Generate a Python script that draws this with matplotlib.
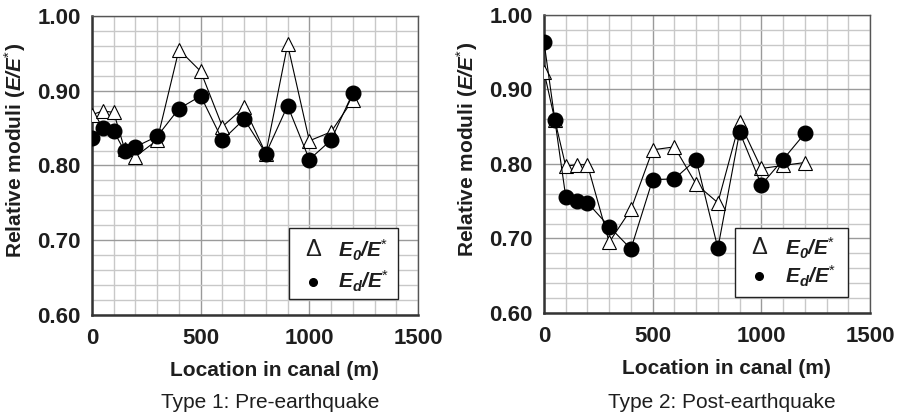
import matplotlib
matplotlib.use("Agg")
import matplotlib.pyplot as plt
from matplotlib.patches import Rectangle
from matplotlib.ticker import MultipleLocator, FormatStrFormatter

plt.rcParams["font.family"] = ["Liberation Sans", "DejaVu Sans"]
plt.rcParams["mathtext.fontset"] = "custom"
plt.rcParams["mathtext.rm"] = "Liberation Sans"
plt.rcParams["mathtext.it"] = "Liberation Sans:italic"
plt.rcParams["mathtext.bf"] = "Liberation Sans:bold"
plt.rcParams["mathtext.bfit"] = "Liberation Sans:italic:bold"

location = [0, 50, 100, 150, 200, 300, 400, 500, 600, 700, 800, 900, 1000, 1100, 1200]

pre_e0 = [0.868, 0.873, 0.871, 0.822, 0.812, 0.834, 0.955, 0.926, 0.852, 0.878,
          0.816, 0.962, 0.833, 0.845, 0.888]
pre_ed = [0.837, 0.850, 0.846, 0.819, 0.825, 0.839, 0.876, 0.893, 0.834, 0.862,
          0.816, 0.880, 0.808, 0.834, 0.897]

post_e0 = [0.924, 0.859, 0.797, 0.799, 0.799, 0.695, 0.739, 0.819, 0.823, 0.773,
           0.748, 0.856, 0.794, 0.798, 0.802]
post_ed = [0.964, 0.859, 0.756, 0.751, 0.748, 0.716, 0.686, 0.779, 0.780, 0.806,
           0.687, 0.843, 0.772, 0.806, 0.841]

captions = ["Type 1: Pre-earthquake", "Type 2: Post-earthquake"]
legend_labels = [r"$\mathbfit{E}_{\mathbfit{0}}\mathbfit{/E}^{*}$",
                 r"$\mathbfit{E}_{\mathbfit{d}}\mathbfit{/E}^{*}$"]
TXT = "#1e1e1e"

fig = plt.figure(figsize=(9.04, 4.19), dpi=100)
W, H = 904, 419
# axes boxes in pixels: left, top, right, bottom
boxes = [(92, 16, 418, 315), (544, 15, 870, 313)]
# legend layout in axes coords: box (x0, y0, x1, y1), symbol x, text x, row ys
leg_layout = [
    ((0.604, 0.054, 0.939, 0.291), 0.678, 0.755, (0.217, 0.112)),
    ((0.586, 0.054, 0.933, 0.285), 0.660, 0.738, (0.218, 0.124)),
]
panels = [(pre_e0, pre_ed), (post_e0, post_ed)]

for (x0, y0, x1, y1), (e0, ed), cap, lay in zip(boxes, panels, captions, leg_layout):
    ax = fig.add_axes([x0 / W, 1 - y1 / H, (x1 - x0) / W, (y1 - y0) / H])
    ax.set_xlim(0, 1500)
    ax.set_ylim(0.60, 1.00)
    ax.xaxis.set_major_locator(MultipleLocator(500))
    ax.xaxis.set_minor_locator(MultipleLocator(100))
    ax.yaxis.set_major_locator(MultipleLocator(0.1))
    ax.yaxis.set_minor_locator(MultipleLocator(0.02))
    ax.yaxis.set_major_formatter(FormatStrFormatter("%.2f"))
    ax.grid(which="minor", color="#c8c8c8", lw=1.0)
    ax.grid(which="major", color="#9a9a9a", lw=1.0)
    ax.set_axisbelow(True)
    ax.tick_params(which="both", direction="in", length=0, labelsize=16,
                   colors=TXT)
    ax.tick_params(axis="x", pad=9)
    ax.tick_params(axis="y", pad=8)
    for lab in ax.get_xticklabels() + ax.get_yticklabels():
        lab.set_fontweight("bold")
    for side in ["left", "bottom"]:
        ax.spines[side].set_linewidth(1.8)
        ax.spines[side].set_color("#333333")
    for side in ["top", "right"]:
        ax.spines[side].set_linewidth(1.0)
        ax.spines[side].set_color("#555555")

    ax.plot(location, e0, color="black", lw=0.8, marker="^", ms=10,
            mfc="white", mec="black", mew=0.8, zorder=3)
    ax.plot(location, ed, color="black", lw=0.8, marker="o", ms=10.5,
            mfc="black", mec="black", zorder=4)

    ax.set_xlabel("Location in canal (m)", fontsize=15, fontweight="bold",
                  color=TXT)
    ax.xaxis.set_label_coords(0.561, -0.155)
    ax.set_ylabel(r"Relative moduli ($\mathbfit{E/E}^{*}$)", fontsize=15,
                  fontweight="bold", color=TXT)
    ax.yaxis.set_label_coords(-0.195, 0.55)

    # hand-made legend box
    (bx0, by0, bx1, by1), sx, tx, rows = lay
    ax.add_patch(Rectangle((bx0, by0), bx1 - bx0, by1 - by0, transform=ax.transAxes,
                           facecolor="white", edgecolor="#222222", lw=1.0, zorder=6))
    ax.text(sx, rows[0], "\u0394", transform=ax.transAxes, fontsize=17,
            ha="center", va="center", color=TXT, zorder=7)
    ax.plot([sx], [rows[1]], transform=ax.transAxes, ls="none", marker="o",
            ms=5.5, color="black", zorder=7, clip_on=False)
    for ry, lab in zip(rows, legend_labels):
        ax.text(tx, ry, lab, transform=ax.transAxes, fontsize=15,
                ha="left", va="center", color=TXT, zorder=7)

    fig.text(((x0 + x1) / 2 + 15) / W, 1 - 402 / H, cap, fontsize=15,
             color=TXT, ha="center", va="center")

fig.savefig("out.png", dpi=100)
